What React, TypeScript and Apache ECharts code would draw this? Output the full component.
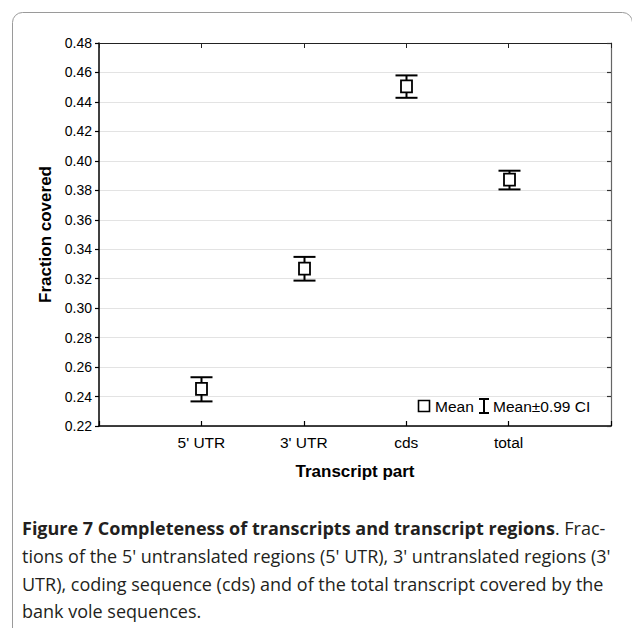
import React, { useEffect, useRef } from "react";
import * as echarts from "echarts";

const categories = ["5' UTR", "3' UTR", "cds", "total"];
const means = [0.2452, 0.3268, 0.4505, 0.3872];
const ciLow = [0.2367, 0.3187, 0.4428, 0.3806];
const ciHigh = [0.2531, 0.3348, 0.458, 0.3933];
const yMin = 0.22;
const yMax = 0.48;
const yStep = 0.02;
const yTitle = "Fraction covered";
const xTitle = "Transcript part";
const legendMean = "Mean";
const legendCI = "Mean\u00b10.99 CI";
const captionBold = "Figure 7 Completeness of transcripts and transcript regions";
const captionLines = [
  ". Frac-",
  "tions of the 5' untranslated regions (5' UTR), 3' untranslated regions (3'",
  "UTR), coding sequence (cds) and of the total transcript covered by the",
  "bank vole sequences.",
];

const FONT = "'Liberation Sans', Arial, sans-serif";
const CAP_FONT = "'Open Sans', 'Noto Sans', sans-serif";

export default function App() {
  const ref = useRef<HTMLDivElement>(null);
  useEffect(() => {
    if (!ref.current) return;
    const chart = echarts.init(ref.current, null, { renderer: "svg" });
    const axisCats = ["", ...categories, " "];
    const data = categories.map((_, i) => [i + 1, ciLow[i], ciHigh[i], means[i]]);
    const capSize = 18;
    const option: any = {
      animation: false,
      backgroundColor: "#ffffff",
      grid: { left: 99, top: 43, right: 21, bottom: 202, containLabel: false },
      xAxis: [
        {
          type: "category",
          data: axisCats,
          boundaryGap: false,
          position: "bottom",
          axisLine: { lineStyle: { color: "#000", width: 1.5 } },
          axisTick: { inside: true, length: 5, lineStyle: { color: "#000", width: 1.2 } },
          axisLabel: { color: "#000", fontFamily: FONT, fontSize: 15.5, margin: 8 },
          splitLine: { show: false },
          name: xTitle,
          nameLocation: "middle",
          nameGap: 37,
          nameTextStyle: { color: "#000", fontFamily: FONT, fontSize: 17, fontWeight: "bold" },
        },
        {
          type: "category",
          data: axisCats,
          boundaryGap: false,
          position: "top",
          axisLine: { lineStyle: { color: "#222", width: 1.2 } },
          axisTick: { inside: true, length: 5, lineStyle: { color: "#222", width: 1 } },
          axisLabel: { show: false },
          splitLine: { show: false },
        },
      ],
      yAxis: [
        {
          type: "value",
          min: yMin,
          max: yMax,
          interval: yStep,
          position: "left",
          axisLine: { show: true, lineStyle: { color: "#000", width: 1.5 } },
          axisTick: { show: true, inside: false, length: 4, lineStyle: { color: "#000", width: 1.2 } },
          axisLabel: {
            color: "#000",
            fontFamily: FONT,
            fontSize: 14,
            margin: 7,
            formatter: (v: number) => v.toFixed(2),
          },
          splitLine: { show: true, lineStyle: { color: "#e3e3e3", width: 1 } },
          name: yTitle,
          nameLocation: "middle",
          nameGap: 45,
          nameRotate: 90,
          nameTextStyle: { color: "#000", fontFamily: FONT, fontSize: 17, fontWeight: "bold" },
        },
        {
          type: "value",
          min: yMin,
          max: yMax,
          interval: yStep,
          position: "right",
          axisLine: { show: true, lineStyle: { color: "#666", width: 1.2 } },
          axisTick: { show: true, inside: true, length: 4, lineStyle: { color: "#333", width: 1.2 } },
          axisLabel: { show: false },
          splitLine: { show: false },
        },
      ],
      series: [
        {
          type: "custom",
          xAxisIndex: 0,
          yAxisIndex: 0,
          data,
          renderItem: (params: any, api: any) => {
            const x = api.value(0);
            const lo = api.coord([x, api.value(1)]);
            const hi = api.coord([x, api.value(2)]);
            const m = api.coord([x, api.value(3)]);
            const cx = Math.round(lo[0]) + 0.5;
            const half = 11;
            const bw = 11;
            const bh = 12;
            const st = { stroke: "#000", lineWidth: 2, fill: null };
            return {
              type: "group",
              children: [
                { type: "line", shape: { x1: cx - half, y1: hi[1], x2: cx + half, y2: hi[1] }, style: st },
                { type: "line", shape: { x1: cx - half, y1: lo[1], x2: cx + half, y2: lo[1] }, style: st },
                { type: "line", shape: { x1: cx, y1: hi[1], x2: cx, y2: m[1] - bh / 2 }, style: st },
                { type: "line", shape: { x1: cx, y1: m[1] + bh / 2, x2: cx, y2: lo[1] }, style: st },
                {
                  type: "rect",
                  shape: { x: cx - bw / 2, y: m[1] - bh / 2, width: bw, height: bh },
                  style: { stroke: "#000", lineWidth: 1.8, fill: "#fff" },
                },
              ],
            };
          },
        },
      ],
      graphic: [
        {
          type: "rect",
          shape: { x: 12.5, y: 12.5, width: 620, height: 700, r: 10 },
          style: { stroke: "#9a9a9a", lineWidth: 1, fill: null },
          silent: true,
          z: -10,
        },
        {
          type: "rect",
          shape: { x: 418.5, y: 400.5, width: 11, height: 11 },
          style: { stroke: "#000", lineWidth: 1.6, fill: "#fff" },
        },
        {
          type: "text",
          x: 435,
          y: 406,
          style: { text: legendMean, fill: "#000", font: `15.5px ${FONT}`, textVerticalAlign: "middle" },
        },
        { type: "line", shape: { x1: 479, y1: 399, x2: 489, y2: 399 }, style: { stroke: "#000", lineWidth: 2 } },
        { type: "line", shape: { x1: 479, y1: 413, x2: 489, y2: 413 }, style: { stroke: "#000", lineWidth: 2 } },
        { type: "line", shape: { x1: 484, y1: 399, x2: 484, y2: 413 }, style: { stroke: "#000", lineWidth: 2 } },
        {
          type: "text",
          x: 493,
          y: 406,
          style: { text: legendCI, fill: "#000", font: `15.5px ${FONT}`, textVerticalAlign: "middle" },
        },
        {
          type: "text",
          x: 22,
          y: 528,
          style: {
            text: `{b|${captionBold}}{r|${captionLines[0]}}`,
            textVerticalAlign: "middle",
            rich: {
              b: { fontFamily: CAP_FONT, fontSize: capSize, fontWeight: "bold", fill: "#231f20" },
              r: { fontFamily: CAP_FONT, fontSize: capSize, fill: "#231f20" },
            },
          },
        },
        ...captionLines.slice(1).map((t, i) => ({
          type: "text",
          x: 22,
          y: 556 + i * 27.5,
          style: { text: t, fill: "#231f20", font: `${capSize}px ${CAP_FONT}`, textVerticalAlign: "middle" },
        })),
      ],
    };
    chart.setOption(option);
    return () => chart.dispose();
  }, []);
  return (
    <div
      ref={ref}
      style={{ position: "fixed", left: 0, top: 0, width: 632, height: 628, background: "#fff" }}
    />
  );
}
